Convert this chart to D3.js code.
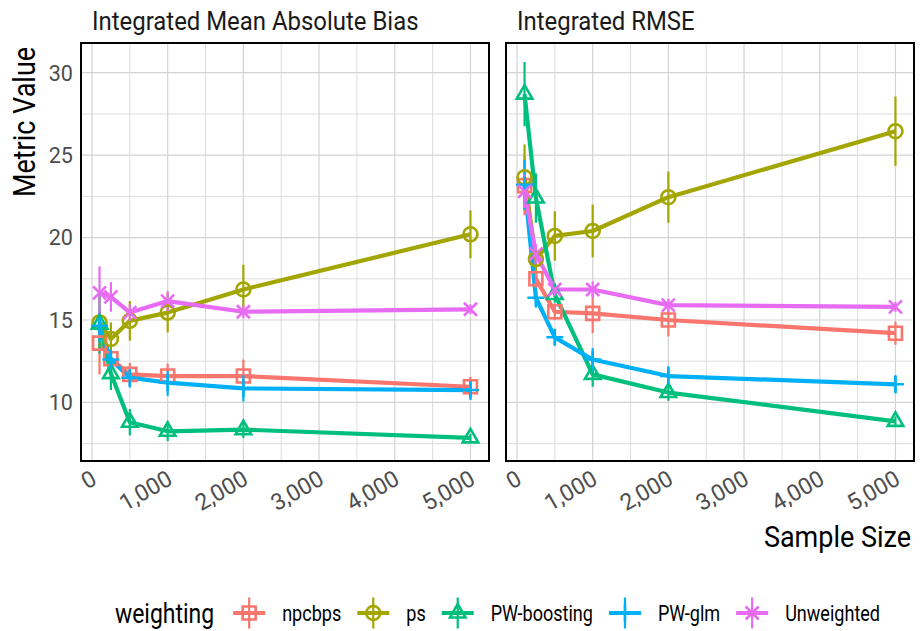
<!DOCTYPE html>
<html>
<head>
<meta charset="utf-8">
<script src="https://cdn.jsdelivr.net/npm/d3@7"></script>
<style>
  body { margin: 0; background: #fff; }
  text { font-family: Roboto, "Noto Sans", sans-serif; }
</style>
</head>
<body>
<script>
let w = 920;
let h = 631;

// data
let sampleSizes = [100, 250, 500, 1000, 2000, 5000];
let methods = ["npcbps", "ps", "PW-boosting", "PW-glm", "Unweighted"];
let colors = ["#F8766D", "#A3A500", "#00BF7D", "#00B0F6", "#E76BF3"];
let panelTitles = ["Integrated Mean Absolute Bias", "Integrated RMSE"];
let xTicks = [0, 1000, 2000, 3000, 4000, 5000];
let yTicks = [10, 15, 20, 25, 30];

// Integrated Mean Absolute Bias (mean, half width of error bar)
let biasNpcbps = [13.6, 12.65, 11.7, 11.6, 11.6, 10.95];
let biasNpcbpsErr = [1.9, 0.5, 0.7, 0.75, 1.0, 0.6];
let biasPs = [14.85, 13.85, 14.95, 15.45, 16.85, 20.2];
let biasPsErr = [1.6, 1.0, 1.2, 1.2, 1.5, 1.45];
let biasBoost = [14.75, 11.75, 8.8, 8.25, 8.35, 7.85];
let biasBoostErr = [1.8, 1.0, 0.8, 0.6, 0.5, 0.25];
let biasGlm = [14.65, 12.6, 11.5, 11.2, 10.85, 10.75];
let biasGlmErr = [1.0, 0.6, 0.6, 0.8, 0.8, 0.6];
let biasUnw = [16.65, 16.4, 15.45, 16.15, 15.5, 15.65];
let biasUnwErr = [1.6, 0.9, 0.5, 0.6, 0.4, 0.3];

// Integrated RMSE
let rmseNpcbps = [23.15, 17.5, 15.5, 15.4, 15.0, 14.2];
let rmseNpcbpsErr = [1.8, 0.6, 0.5, 1.2, 1.0, 0.7];
let rmsePs = [23.65, 18.7, 20.1, 20.4, 22.45, 26.45];
let rmsePsErr = [2.0, 0.7, 1.5, 1.6, 1.55, 2.1];
let rmseBoost = [28.7, 22.4, 16.55, 11.7, 10.6, 8.85];
let rmseBoostErr = [1.95, 1.5, 0.5, 0.75, 0.5, 0.3];
let rmseGlm = [23.2, 16.35, 13.95, 12.6, 11.6, 11.1];
let rmseGlmErr = [1.5, 0.6, 0.5, 0.7, 0.6, 0.55];
let rmseUnw = [22.8, 19.0, 16.85, 16.85, 15.9, 15.8];
let rmseUnwErr = [1.0, 0.6, 0.4, 0.5, 0.4, 0.3];

let panels = [
  { title: panelTitles[0], means: [biasNpcbps, biasPs, biasBoost, biasGlm, biasUnw],
    errs: [biasNpcbpsErr, biasPsErr, biasBoostErr, biasGlmErr, biasUnwErr] },
  { title: panelTitles[1], means: [rmseNpcbps, rmsePs, rmseBoost, rmseGlm, rmseUnw],
    errs: [rmseNpcbpsErr, rmsePsErr, rmseBoostErr, rmseGlmErr, rmseUnwErr] }
];

// layout
let panelTop = 43, panelBottom = 461;
let panelLefts = [81, 506];
let panelW = 408;

// ggplot style 5% expansion
let xMin = d3.min(sampleSizes), xMax = d3.max(sampleSizes);
let xPad = (xMax - xMin) * 0.05;
let lows = [], highs = [];
panels.forEach(p => p.means.forEach((m, i) => m.forEach((v, j) => {
  lows.push(v - p.errs[i][j]);
  highs.push(v + p.errs[i][j]);
})));
let yMin = d3.min(lows), yMax = d3.max(highs);
let yPad = (yMax - yMin) * 0.05;

let yScale = d3.scaleLinear()
  .domain([yMin - yPad, yMax + yPad])
  .range([panelBottom, panelTop]);

// condensed look: squeeze text a bit
function condense(sel, f) {
  sel.each(function() {
    let len = this.getComputedTextLength();
    d3.select(this)
      .attr("textLength", len * f)
      .attr("lengthAdjust", "spacingAndGlyphs")
      .attr("data-w", len * f);
  });
}

// marker shapes (open, stroked)
let shapes = [
  { draw: function(c) { let r = 6.5; c.rect(-r, -r, 2 * r, 2 * r); } },
  { draw: function(c) { c.moveTo(7, 0); c.arc(0, 0, 7, 0, 2 * Math.PI); } },
  { draw: function(c) { let r = 9; c.moveTo(0, -r); c.lineTo(r * 0.866, r * 0.5); c.lineTo(-r * 0.866, r * 0.5); c.closePath(); } },
  { draw: function(c) { let r = 8.5; c.moveTo(-r, 0); c.lineTo(r, 0); c.moveTo(0, -r); c.lineTo(0, r); } },
  { draw: function(c) { let r = 6.5; c.moveTo(-r, -r); c.lineTo(r, r); c.moveTo(-r, r); c.lineTo(r, -r); } }
];

let svg = d3.select("body")
  .append("svg")
  .attr("width", w)
  .attr("height", h);

panels.forEach(function(p, pi) {
  let left = panelLefts[pi];
  let xScale = d3.scaleLinear()
    .domain([xMin - xPad, xMax + xPad])
    .range([left, left + panelW]);

  let g = svg.append("g");

  // minor grid
  let xMinor = d3.range(500, 5001, 1000);
  let yMinor = d3.range(7.5, 31, 5);
  g.selectAll(".xminor").data(xMinor).enter().append("line")
    .attr("x1", d => xScale(d)).attr("x2", d => xScale(d))
    .attr("y1", panelTop).attr("y2", panelBottom)
    .attr("stroke", "#dddddd").attr("stroke-width", 1);
  g.selectAll(".yminor").data(yMinor).enter().append("line")
    .attr("x1", left).attr("x2", left + panelW)
    .attr("y1", d => yScale(d)).attr("y2", d => yScale(d))
    .attr("stroke", "#dddddd").attr("stroke-width", 1);

  // major grid
  g.selectAll(".xmajor").data(xTicks).enter().append("line")
    .attr("x1", d => xScale(d)).attr("x2", d => xScale(d))
    .attr("y1", panelTop).attr("y2", panelBottom)
    .attr("stroke", "#d3d3d3").attr("stroke-width", 1.2);
  g.selectAll(".ymajor").data(yTicks).enter().append("line")
    .attr("x1", left).attr("x2", left + panelW)
    .attr("y1", d => yScale(d)).attr("y2", d => yScale(d))
    .attr("stroke", "#d3d3d3").attr("stroke-width", 1.2);

  let line = d3.line()
    .x((_, j) => xScale(sampleSizes[j]))
    .y(d => yScale(d));

  // lines
  g.selectAll(".series").data(p.means).enter().append("path")
    .attr("d", d => line(d))
    .attr("fill", "none")
    .attr("stroke", (_, i) => colors[i])
    .attr("stroke-width", 4.2)
    .attr("stroke-linejoin", "round");

  // error bars
  p.means.forEach(function(m, i) {
    g.selectAll(".err" + i).data(m).enter().append("line")
      .attr("x1", (_, j) => xScale(sampleSizes[j]))
      .attr("x2", (_, j) => xScale(sampleSizes[j]))
      .attr("y1", (d, j) => yScale(d - p.errs[i][j]))
      .attr("y2", (d, j) => yScale(d + p.errs[i][j]))
      .attr("stroke", colors[i])
      .attr("stroke-width", 2.2);
  });

  // points
  p.means.forEach(function(m, i) {
    g.selectAll(".pt" + i).data(m).enter().append("path")
      .attr("d", d3.symbol().type(shapes[i]))
      .attr("transform", (d, j) => "translate(" + xScale(sampleSizes[j]) + "," + yScale(d) + ")")
      .attr("fill", "none")
      .attr("stroke", colors[i])
      .attr("stroke-width", 2.6);
  });

  // border
  g.append("rect")
    .attr("x", left).attr("y", panelTop)
    .attr("width", panelW).attr("height", panelBottom - panelTop)
    .attr("fill", "none").attr("stroke", "#000").attr("stroke-width", 2);

  // panel title
  g.append("text")
    .attr("x", left + 11).attr("y", 30)
    .attr("font-size", "26px")
    .attr("fill", "#1a1a1a")
    .text(p.title)
    .call(condense, 0.92);

  // x tick labels
  g.selectAll(".xlab").data(xTicks).enter().append("text")
    .attr("transform", d => "translate(" + (xScale(d) - 2) + "," + 469 + ") rotate(-30)")
    .attr("dy", "0.72em")
    .attr("text-anchor", "end")
    .attr("font-size", "23px")
    .attr("fill", "#4d4d4d")
    .text(d => d3.format(",")(d));
});

// y tick labels (left panel only)
svg.selectAll(".ylab").data(yTicks).enter().append("text")
  .attr("x", 73).attr("y", d => yScale(d))
  .attr("dy", "0.36em")
  .attr("text-anchor", "end")
  .attr("font-size", "22px")
  .attr("fill", "#4d4d4d")
  .text(d => d)
  .call(condense, 0.98);

// axis titles
svg.append("text")
  .attr("transform", "translate(35,122) rotate(-90)")
  .attr("text-anchor", "middle")
  .attr("font-size", "31px")
  .attr("fill", "#000")
  .text("Metric Value")
  .call(condense, 0.87);

// scaled instead of textLength so its box stays inside the page
svg.append("text")
  .attr("transform", "translate(911,547) scale(0.9,1)")
  .attr("text-anchor", "end")
  .attr("font-size", "30px")
  .attr("fill", "#000")
  .text("Sample Size");

// legend
let legY = 613;
let leg = svg.append("g");
let legCondense = 0.82;
let legTitle = leg.append("text")
  .attr("y", legY).attr("dy", "0.36em")
  .attr("font-size", "28px")
  .attr("fill", "#000")
  .text("weighting")
  .call(condense, legCondense);

let items = leg.selectAll(".item").data(methods).enter().append("g");
items.append("text")
  .attr("y", legY).attr("dy", "0.36em")
  .attr("font-size", "22px")
  .attr("fill", "#000")
  .text(d => d)
  .call(condense, legCondense);

// work out widths, then center under the panels
let titleW = +legTitle.attr("data-w");
let itemW = [];
items.each(function() {
  itemW.push(+d3.select(this).select("text").attr("data-w"));
});
let keyW = 32, gapTitle = 19, gapKey = 17, gapItem = 16;
let total = titleW + gapTitle + d3.sum(itemW, d => keyW + gapKey + d) + gapItem * (methods.length - 1);
let cx = (panelLefts[0] + panelLefts[1] + panelW) / 2;
let xPos = cx - total / 2;
legTitle.attr("x", xPos);
xPos += titleW + gapTitle;

items.each(function(d, i) {
  let it = d3.select(this);
  let kx = xPos + keyW / 2;
  it.insert("line", "text")
    .attr("x1", xPos).attr("x2", xPos + keyW)
    .attr("y1", legY).attr("y2", legY)
    .attr("stroke", colors[i]).attr("stroke-width", 4.2);
  it.insert("line", "text")
    .attr("x1", kx).attr("x2", kx)
    .attr("y1", legY - 15.5).attr("y2", legY + 15.5)
    .attr("stroke", colors[i]).attr("stroke-width", 2.2);
  it.insert("path", "text")
    .attr("d", d3.symbol().type(shapes[i]))
    .attr("transform", "translate(" + kx + "," + legY + ")")
    .attr("fill", "none")
    .attr("stroke", colors[i]).attr("stroke-width", 2.6);
  it.select("text").attr("x", xPos + keyW + gapKey);
  xPos += keyW + gapKey + itemW[i] + gapItem;
});
</script>
</body>
</html>
